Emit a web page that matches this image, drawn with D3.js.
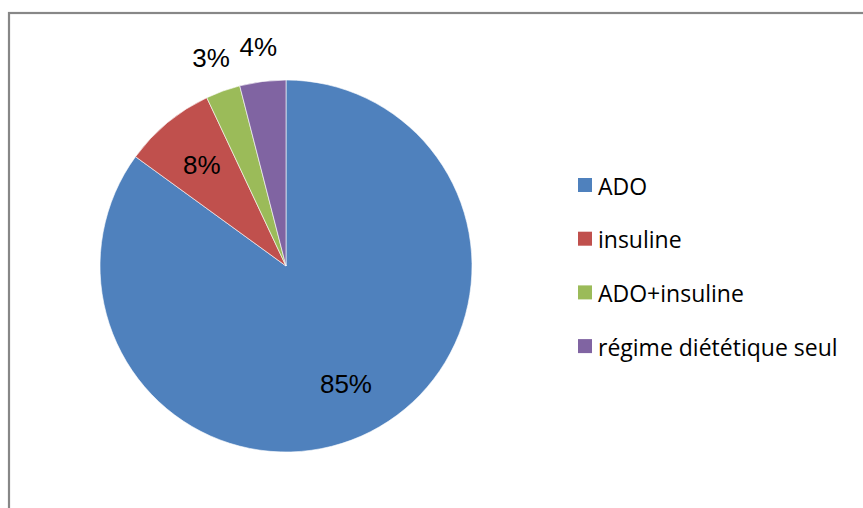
<!DOCTYPE html>
<html>
<head>
<meta charset="utf-8">
<script src="https://cdn.jsdelivr.net/npm/d3@7"></script>
<style>
  html, body { margin: 0; padding: 0; background: #fff; }
  svg { display: block; }
</style>
</head>
<body>
<svg id="chart" width="863" height="508"></svg>
<script>
// Treatment distribution
const categories = ["ADO", "insuline", "ADO+insuline", "régime diététique seul"];
const values = [85, 8, 3, 4];
const colors = ["#4F81BD", "#C0504D", "#9BBB59", "#8064A2"];

const svg = d3.select("#chart");
const W = 863, H = 508;

// chart frame
svg.append("rect")
  .attr("x", 9).attr("y", 13)
  .attr("width", W + 20).attr("height", H + 20)
  .attr("fill", "#fff")
  .attr("stroke", "#878787")
  .attr("stroke-width", 2.2);

const cx = 286, cy = 266, R = 186;
const g = svg.append("g").attr("transform", `translate(${cx},${cy})`);

const data = categories.map((c, i) => ({ name: c, value: values[i], color: colors[i] }));

const pie = d3.pie().value(d => d.value).sort(null);
const arcs = pie(data);
const arc = d3.arc().innerRadius(0).outerRadius(R);

g.selectAll("path.slice")
  .data(arcs)
  .join("path")
  .attr("class", "slice")
  .attr("d", arc)
  .attr("fill", d => d.data.color)
  .attr("stroke", "#fff")
  .attr("stroke-width", 0.6);

// percentage labels: inside for large slices, outside for small ones
const total = d3.sum(values);
const inner = d3.arc().innerRadius(R * 0.71).outerRadius(R * 0.71);
const outer = d3.arc().innerRadius(R * 1.19).outerRadius(R * 1.19);

g.selectAll("text.pct")
  .data(arcs)
  .join("text")
  .attr("class", "pct")
  .attr("transform", d => {
    const p = (d.data.value / total >= 0.05 ? inner : outer).centroid(d);
    return `translate(${p[0]},${p[1]})`;
  })
  .attr("text-anchor", "middle")
  .attr("dy", "0.36em")
  .attr("font-family", "Liberation Sans, Arial, sans-serif")
  .attr("font-size", 26)
  .attr("fill", "#000")
  .text(d => Math.round(d.data.value / total * 100) + "%");

// legend
const legend = svg.append("g").attr("transform", "translate(578,178)");
const rowH = 53.7;
const items = legend.selectAll("g.item")
  .data(data)
  .join("g")
  .attr("class", "item")
  .attr("transform", (d, i) => `translate(0,${i * rowH})`);

items.append("rect")
  .attr("width", 14).attr("height", 14)
  .attr("fill", d => d.color);

items.append("text")
  .attr("x", 20).attr("y", 16.5)
  .attr("font-family", "'Open Sans', Lato, sans-serif")
  .attr("font-size", 23)
  .attr("fill", "#000")
  .text(d => d.name);
</script>
</body>
</html>
